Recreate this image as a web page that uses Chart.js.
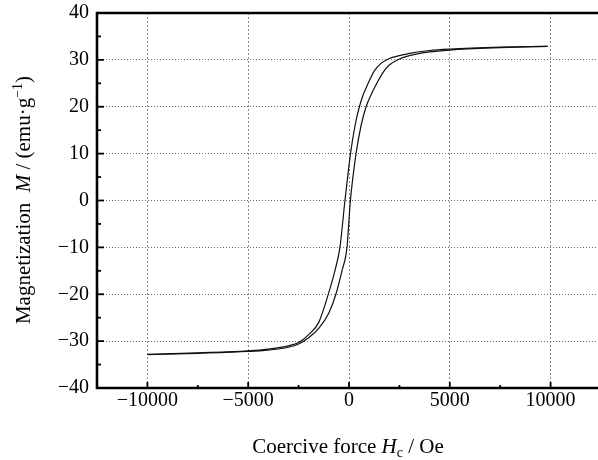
<!DOCTYPE html>
<html>
<head>
<meta charset="utf-8">
<script src="https://cdn.jsdelivr.net/npm/chart.js@4.4.0/dist/chart.umd.min.js"></script>
<style>
  html, body { margin: 0; padding: 0; background: #fff; overflow: hidden; }
  #wrap { width: 606px; height: 460px; }
</style>
</head>
<body>
<div id="wrap"><canvas id="chart" width="606" height="460"></canvas></div>
<script>
// descending branch (comes down from +saturation)
const upperH = [-10000, -7500, -5000, -4000, -3000, -2500, -2000, -1500, -1000, -700, -450, -200, 75, 300, 515, 700, 950, 1250, 1600, 2000, 2500, 3000, 4000, 5000, 7500, 9850];
const upperM = [-32.8, -32.5, -32.1, -31.7, -31.0, -30.3, -28.6, -26.0, -19.6, -15.0, -10.0, 0.0, 10.0, 16.0, 20.0, 22.5, 25.0, 27.6, 29.3, 30.3, 30.9, 31.4, 32.0, 32.3, 32.7, 32.9];
// ascending branch
const lowerH = [-10000, -7500, -5000, -4000, -3000, -2500, -2000, -1500, -1000, -650, -350, -100, 70, 350, 600, 847, 1100, 1380, 1700, 2000, 2500, 3000, 4000, 5000, 7500, 9850];
const lowerM = [-32.9, -32.6, -32.2, -31.9, -31.3, -30.6, -29.3, -27.3, -24.0, -20.0, -15.0, -10.0, 0.0, 10.0, 16.0, 20.0, 22.6, 25.0, 27.4, 28.9, 30.2, 30.9, 31.7, 32.1, 32.6, 32.9];

const xRange = [-12500, 12500];
const xTickValues = [-10000, -5000, 0, 5000, 10000];
const xMajor = 5000, xMinor = 2500;
const yRange = [-40, 40];
const yMajor = 10, yMinor = 5;

const FONT = "'Liberation Serif', 'Times New Roman', serif";

function toPoints(hs, ms) {
    return hs.map((h, i) => ({ x: h, y: ms[i] }));
}

function minusSign(v) {
    return String(v).replace('-', '\u2212');
}

// inside ticks + frame
const frameTicks = {
    id: 'frameTicks',
    afterDraw(chart) {
        const { ctx, chartArea: a, scales } = chart;
        const x = scales.x, y = scales.y;
        ctx.save();
        ctx.strokeStyle = '#000';
        ctx.lineWidth = 1.8;
        for (let v = xRange[0]; v <= xRange[1]; v += xMinor) {
            const px = x.getPixelForValue(v);
            const len = v % xMajor === 0 ? 6 : 3;
            ctx.beginPath();
            ctx.moveTo(px, a.bottom);
            ctx.lineTo(px, a.bottom - len);
            ctx.stroke();
        }
        for (let v = yRange[0]; v <= yRange[1]; v += yMinor) {
            const py = y.getPixelForValue(v);
            const len = v % yMajor === 0 ? 7 : 4;
            ctx.beginPath();
            ctx.moveTo(a.left, py);
            ctx.lineTo(a.left + len, py);
            ctx.stroke();
        }
        ctx.lineWidth = 2.6;
        ctx.beginPath();
        ctx.rect(a.left, a.top, a.right - a.left, a.bottom - a.top);
        ctx.stroke();
        ctx.restore();
    }
};

// axis titles with italic symbols, subscript and superscript
function drawRich(ctx, parts, cx, baseY) {
    const size = 21;
    const fontFor = p => {
        const s = p.sub || p.sup ? 14 : size;
        return (p.italic ? 'italic ' : '') + s + 'px ' + FONT;
    };
    let total = 0;
    parts.forEach(p => { ctx.font = fontFor(p); p.w = ctx.measureText(p.t).width; total += p.w; });
    let x = cx - total / 2;
    parts.forEach(p => {
        ctx.font = fontFor(p);
        const dy = p.sub ? 4 : (p.sup ? -8 : 0);
        ctx.fillText(p.t, x, baseY + dy);
        x += p.w;
    });
}

const axisTitles = {
    id: 'axisTitles',
    afterDraw(chart) {
        const ctx = chart.ctx;
        ctx.save();
        ctx.fillStyle = '#000';
        ctx.textBaseline = 'alphabetic';
        ctx.textAlign = 'left';
        drawRich(ctx, [
            { t: 'Coercive force ' },
            { t: 'H', italic: true },
            { t: 'c', sub: true },
            { t: ' / Oe' }
        ], 348, 453);
        ctx.translate(30, 200);
        ctx.rotate(-Math.PI / 2);
        drawRich(ctx, [
            { t: 'Magnetization  ' },
            { t: 'M', italic: true },
            { t: ' / (emu\u00b7g' },
            { t: '\u22121', sup: true },
            { t: ')' }
        ], 0, 0);
        ctx.restore();
    }
};

const lineStyle = {
    borderColor: '#111',
    borderWidth: 1.2,
    pointRadius: 0,
    fill: false,
    cubicInterpolationMode: 'monotone'
};

new Chart(document.getElementById('chart'), {
    type: 'line',
    data: {
        datasets: [
            Object.assign({ label: 'descending', data: toPoints(upperH, upperM) }, lineStyle),
            Object.assign({ label: 'ascending', data: toPoints(lowerH, lowerM) }, lineStyle)
        ]
    },
    options: {
        responsive: false,
        animation: false,
        layout: { padding: { top: 13, right: 5, left: 0, bottom: 0 } },
        plugins: { legend: { display: false }, tooltip: { enabled: false } },
        scales: {
            x: {
                type: 'linear',
                min: xRange[0],
                max: xRange[1],
                afterBuildTicks: s => { s.ticks = xTickValues.map(v => ({ value: v })); },
                afterFit: s => { s.height = 72; s.paddingLeft = 0; s.paddingRight = 0; },
                ticks: {
                    autoSkip: false,
                    maxRotation: 0,
                    padding: 1,
                    color: '#000',
                    font: { family: FONT, size: 20 },
                    callback: v => minusSign(v)
                },
                grid: { color: '#8a8a8a', lineWidth: 1, drawTicks: false },
                border: { display: false, dash: [2, 2] }
            },
            y: {
                min: yRange[0],
                max: yRange[1],
                afterFit: s => { s.width = 97; s.paddingTop = 0; s.paddingBottom = 0; },
                ticks: {
                    stepSize: yMajor,
                    padding: 8,
                    color: '#000',
                    font: { family: FONT, size: 20 },
                    callback: v => minusSign(v)
                },
                grid: { color: '#6a6a6a', lineWidth: 1, drawTicks: false },
                border: { display: false, dash: [1, 2] }
            }
        }
    },
    plugins: [frameTicks, axisTitles]
});
</script>
</body>
</html>
